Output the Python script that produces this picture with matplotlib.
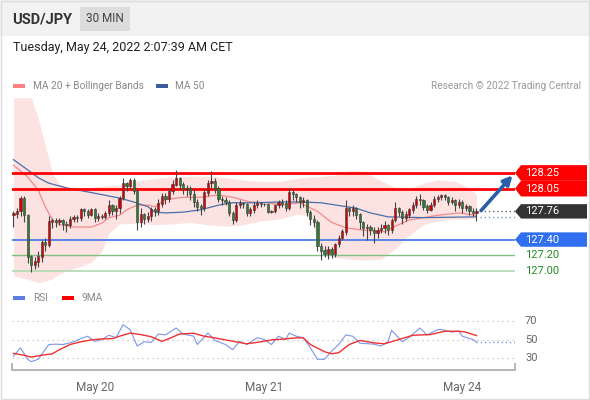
import numpy as np
import matplotlib
matplotlib.use('Agg')
import matplotlib.pyplot as plt
from matplotlib.patches import Rectangle, Polygon
from matplotlib.transforms import blended_transform_factory

plt.rcParams['font.family'] = ['Roboto', 'DejaVu Sans']

# candles (30 min), open of each candle = previous close
first_open = 127.72
closes = [127.73, 127.76, 127.93, 127.71, 127.18, 127.08, 127.12, 127.18, 127.36, 127.33,
          127.63, 127.65, 127.62, 127.64, 127.60, 127.58, 127.66, 127.68, 127.67, 127.78,
          127.76, 127.72, 127.78, 127.68, 127.70, 127.69, 127.74, 127.84, 127.76, 127.80,
          127.93, 128.12, 128.08, 128.16, 128.02, 127.63, 127.72, 127.66, 127.70, 127.78,
          127.76, 127.86, 127.95, 127.92, 128.02, 128.10, 128.18, 128.10, 128.04, 128.06,
          127.98, 127.88, 127.82, 127.80, 128.00, 128.12, 128.15, 128.05, 127.92, 127.90,
          127.88, 127.74, 127.65, 127.84, 127.86, 127.85, 127.74, 127.78, 127.84, 127.86,
          127.85, 127.85, 127.75, 127.76, 127.84, 127.88, 127.86, 127.80, 128.00, 127.98,
          127.94, 127.88, 127.90, 127.75, 127.66, 127.62, 127.32, 127.26, 127.22, 127.28,
          127.22, 127.34, 127.42, 127.50, 127.80, 127.76, 127.80, 127.72, 127.62, 127.55,
          127.56, 127.52, 127.48, 127.52, 127.55, 127.58, 127.52, 127.65, 127.80, 127.75,
          127.67, 127.72, 127.78, 127.84, 127.92, 127.90, 127.82, 127.78, 127.84, 127.92,
          127.94, 127.96, 127.94, 127.88, 127.90, 127.84, 127.88, 127.80, 127.82, 127.76,
          127.74, 127.76]
highs = [127.76, 127.80, 127.96, 127.96, 127.73, 127.20, 127.18, 127.25, 127.40, 127.42,
         127.70, 127.68, 127.67, 127.68, 127.66, 127.64, 127.70, 127.72, 127.72, 127.80,
         127.80, 127.79, 127.80, 127.80, 127.74, 127.73, 127.77, 127.90, 127.86, 127.84,
         127.95, 128.18, 128.14, 128.19, 128.18, 128.04, 127.80, 127.74, 127.75, 127.82,
         127.82, 127.92, 128.00, 128.00, 128.06, 128.16, 128.29, 128.20, 128.14, 128.10,
         128.08, 128.06, 127.92, 127.86, 128.05, 128.16, 128.28, 128.18, 128.08, 127.96,
         127.94, 127.90, 127.76, 127.88, 127.90, 127.88, 127.87, 127.82, 127.88, 127.90,
         127.88, 127.87, 127.87, 127.78, 127.86, 127.90, 127.92, 127.90, 128.06, 128.04,
         128.00, 127.96, 127.94, 127.92, 127.78, 127.72, 127.65, 127.36, 127.32, 127.32,
         127.30, 127.36, 127.46, 127.54, 127.90, 127.82, 127.84, 127.82, 127.74, 127.64,
         127.60, 127.58, 127.56, 127.56, 127.60, 127.64, 127.60, 127.68, 127.88, 127.82,
         127.78, 127.76, 127.80, 127.88, 127.96, 127.98, 127.92, 127.86, 127.88, 127.96,
         127.97, 127.98, 127.98, 127.96, 127.94, 127.92, 127.92, 127.90, 127.86, 127.84,
         127.80, 127.80]
lows = [127.56, 127.68, 127.70, 127.62, 127.10, 126.99, 127.02, 127.05, 127.12, 127.26,
        127.30, 127.55, 127.56, 127.58, 127.52, 127.50, 127.55, 127.62, 127.63, 127.64,
        127.70, 127.68, 127.70, 127.62, 127.64, 127.66, 127.66, 127.70, 127.72, 127.66,
        127.74, 127.90, 128.02, 128.05, 127.98, 127.52, 127.56, 127.60, 127.62, 127.64,
        127.70, 127.72, 127.82, 127.85, 127.88, 127.98, 128.08, 128.04, 127.98, 127.96,
        127.90, 127.82, 127.76, 127.72, 127.76, 127.96, 128.06, 128.00, 127.88, 127.84,
        127.84, 127.70, 127.60, 127.62, 127.80, 127.80, 127.70, 127.70, 127.74, 127.80,
        127.82, 127.83, 127.74, 127.74, 127.74, 127.80, 127.82, 127.76, 127.78, 127.90,
        127.88, 127.80, 127.82, 127.70, 127.58, 127.56, 127.25, 127.14, 127.18, 127.15,
        127.16, 127.18, 127.30, 127.40, 127.46, 127.70, 127.70, 127.66, 127.54, 127.45,
        127.40, 127.46, 127.36, 127.42, 127.48, 127.48, 127.46, 127.48, 127.62, 127.70,
        127.60, 127.64, 127.68, 127.74, 127.80, 127.84, 127.78, 127.74, 127.76, 127.82,
        127.88, 127.90, 127.90, 127.84, 127.86, 127.76, 127.80, 127.74, 127.76, 127.72,
        127.70, 127.64]

# MA 20 + Bollinger bands, MA 50
band_idx = [0, 5, 7, 9, 11, 13, 15, 19, 22, 25, 27, 30, 35, 40, 45, 50, 55, 60, 65, 70,
            75, 80, 84, 86, 88, 91, 95, 98, 101, 104, 108, 111, 116, 120, 125, 129, 131]
band_upper = [129.21, 129.21, 128.95, 128.60, 128.25, 128.11, 128.07, 128.06, 128.07, 128.08,
              128.09, 128.10, 128.15, 128.18, 128.20, 128.21, 128.21, 128.19, 128.16, 128.14,
              128.14, 128.18, 128.20, 128.20, 128.21, 128.22, 128.28, 128.27, 128.22, 128.15,
              128.06, 128.03, 128.12, 128.16, 128.14, 128.06, 127.97]
band_lower = [126.94, 126.88, 126.85, 126.87, 126.90, 126.96, 127.00, 127.06, 127.11, 127.25,
              127.48, 127.60, 127.61, 127.59, 127.60, 127.62, 127.59, 127.57, 127.59, 127.64,
              127.66, 127.72, 127.71, 127.40, 127.24, 127.17, 127.15, 127.14, 127.14, 127.15,
              127.28, 127.42, 127.59, 127.64, 127.66, 127.66, 127.68]
ma20_idx = [0, 4, 7, 9, 11, 13, 17, 22, 25, 27, 30, 32, 35, 38, 40, 43, 48, 53, 58, 62,
            67, 72, 76, 81, 86, 90, 94, 99, 105, 107, 112, 120, 126, 131]
ma20 = [128.35, 128.20, 128.03, 127.82, 127.65, 127.59, 127.56, 127.56, 127.61, 127.68,
        127.71, 127.78, 127.84, 127.84, 127.82, 127.91, 127.94, 127.94, 127.97, 127.94,
        127.88, 127.87, 127.84, 127.87, 127.76, 127.62, 127.55, 127.52, 127.50, 127.55,
        127.65, 127.71, 127.74, 127.71]
ma50_idx = [0, 4, 7, 10, 15, 22, 30, 34, 38, 40, 43, 48, 53, 58, 62, 69, 75, 81, 87, 97,
            101, 106, 116, 131]
ma50 = [128.42, 128.29, 128.19, 128.12, 128.06, 128.00, 127.93, 127.88, 127.82, 127.75,
        127.74, 127.75, 127.78, 127.84, 127.87, 127.87, 127.88, 127.88, 127.87, 127.80,
        127.74, 127.69, 127.68, 127.69]

# key levels
resist = [128.25, 128.05]
support = [127.40, 127.20, 127.00]
last_price = 127.76
target = 128.22

# RSI and its 9 period average
rsi_idx = [0, 2, 4, 5, 7, 8, 10, 12, 14, 17, 19, 21, 23, 25, 27, 29, 31, 33, 35, 37,
           39, 41, 43, 46, 48, 51, 52, 55, 57, 60, 62, 64, 66, 69, 71, 73, 75, 77, 78, 80,
           82, 84, 86, 88, 90, 92, 94, 96, 98, 102, 104, 106, 107, 110, 112, 115, 117, 120, 121, 124,
           126, 127, 130, 131]
rsi = [32, 41, 28.6, 26, 28.6, 34, 44.6, 45, 44.6, 47.5, 51, 53.6, 48, 50, 54.6, 52, 66, 60.7, 43, 47.5,
       47, 56, 55, 62.5, 56, 53.6, 44.6, 57, 49, 44.6, 39, 48, 44.6, 52, 50, 44.6, 53.6, 50, 57, 53.6,
       52, 41, 28.6, 28.6, 37.5, 44.6, 55, 53.6, 46, 45, 43, 48, 60, 47.5, 52.5, 62.5, 55, 60.7, 61, 58,
       59, 53.6, 50, 47.5]
ma9_idx = [0, 3, 5, 8, 11, 13, 16, 19, 22, 25, 28, 30, 33, 36, 39, 42, 44, 47, 51, 54,
           57, 60, 63, 66, 70, 73, 76, 80, 82, 84, 88, 90, 92, 95, 98, 102, 105, 109, 113, 118,
           122, 126, 128, 131]
ma9 = [35, 33, 31, 33, 34.6, 39, 44.6, 47.5, 49.6, 50.7, 51, 53.6, 57, 55.4, 53, 48, 51, 56, 56.8, 53.6,
       51.8, 49.6, 47.5, 45.4, 47.5, 49.6, 50.4, 51.8, 51.8, 44.6, 36.8, 34.6, 35.7, 44.6, 49, 46.4, 45.4, 50, 54.6, 55.4,
       59, 59, 58, 54.3]

date_pos = [23, 71, 127]
date_labels = ['May 20', 'May 21', 'May 24']

W, H = 590, 400
fig = plt.figure(figsize=(W / 100, H / 100), dpi=100)


def fx(px):
    return px / W


def fy(py):
    return 1 - py / H


# header
fig.patches.append(Rectangle((0, fy(36)), 1, 36 / H, transform=fig.transFigure,
                             facecolor='#f2f2f2', edgecolor='none', zorder=0))
fig.patches.append(Rectangle((fx(80), fy(31)), fx(50), 24 / H, transform=fig.transFigure,
                             facecolor='#dcdcdc', edgecolor='none', zorder=1))
fig.patches.append(Rectangle((0.001, 0.002), 0.997, 0.996, transform=fig.transFigure,
                             facecolor='none', edgecolor='#dddddd', lw=1, zorder=5))
fig.text(fx(12), fy(19), 'USD/JPY', fontsize=10.5, fontweight='bold', color='#333333', va='center')
fig.text(fx(105), fy(19), '30 MIN', fontsize=8.5, color='#444444', va='center', ha='center')
fig.text(fx(13), fy(48), 'Tuesday, May 24, 2022 2:07:39 AM CET', fontsize=9, color='#222222', va='center')

# legend row
fig.patches.append(Rectangle((fx(13), fy(88)), fx(12), 4 / H, transform=fig.transFigure,
                             facecolor='#ff8080', edgecolor='none'))
fig.text(fx(33), fy(86), 'MA 20 + Bollinger Bands', fontsize=7.3, color='#888888', va='center')
fig.patches.append(Rectangle((fx(156), fy(88)), fx(12), 4 / H, transform=fig.transFigure,
                             facecolor='#3a5e9c', edgecolor='none'))
fig.text(fx(175), fy(86), 'MA 50', fontsize=7.3, color='#888888', va='center')
fig.text(fx(581), fy(86), 'Research \u00a9 2022 Trading Central', fontsize=7.3, color='#999999',
         va='center', ha='right')

# price panel
ax = fig.add_axes([fx(12), fy(285), fx(503), (285 - 97) / H])
ax.set_xlim(-0.42, 141.9)
ax.set_ylim(126.82, 129.22)
ax.axis('off')

ax.fill_between(band_idx, band_lower, band_upper, color='#fde2e2', lw=0, zorder=1)
ax.plot(ma20_idx, ma20, color='#f48a8a', lw=0.9, zorder=2)
ax.plot(ma50_idx, ma50, color='#4a6fa8', lw=0.9, zorder=2)

for p in resist:
    ax.axhline(p, color='#ff0000', lw=2, zorder=3)
ax.axhline(support[0], color='#3b73e8', lw=1.2, zorder=3)
ax.axhline(support[1], color='#7fbf7f', lw=1.0, zorder=3)
ax.axhline(support[2], color='#b8dcb8', lw=1.3, zorder=3)

opens = [first_open] + closes[:-1]
x = np.arange(len(closes))
o = np.array(opens)
c = np.array(closes)
up = c >= o
ax.vlines(x, lows, highs, color='#444444', lw=0.8, zorder=4)
ax.bar(x[up], (c - o)[up] + 0.004, bottom=o[up], width=0.62, color='#d50000',
       edgecolor='#3a3a3a', lw=0.4, zorder=5)
ax.bar(x[~up], (o - c)[~up] + 0.004, bottom=c[~up], width=0.62, color='#2e7d32',
       edgecolor='#3a3a3a', lw=0.4, zorder=5)

n = len(closes)
ax.plot([n, 141.9], [last_price, last_price], color='#666666', lw=1, ls=(0, (1, 2)), zorder=3)
ax.plot([n, 141.9], [ma50[-1], ma50[-1]], color='#7f9ccc', lw=1, ls=(0, (1, 2)), zorder=3)

ax.annotate('', xy=(141.2, target), xytext=(n + 0.3, last_price + 0.01),
            arrowprops=dict(arrowstyle='-|>', color='#2b5ea8', lw=2.6, mutation_scale=13,
                            shrinkA=0, shrinkB=0), zorder=6)

# right side labels
tr = blended_transform_factory(ax.transAxes, ax.transData)
px_ax = 1 / 503


def tag(price, color, half=0.092):
    x0 = 1 + 0 * px_ax
    x1 = 1 + 6 * px_ax
    x2 = 1 + 72 * px_ax
    poly = Polygon([(x0, price), (x1, price + half), (x2, price + half),
                    (x2, price - half), (x1, price - half)], closed=True,
                   transform=tr, facecolor=color, edgecolor='none', clip_on=False, zorder=6)
    ax.add_patch(poly)
    ax.text(1 + 10 * px_ax, price, f'{price:.2f}', transform=tr, color='white',
            fontsize=8, va='center', ha='left', clip_on=False, zorder=7)


tag(resist[0], '#ff0000', 0.1)
tag(resist[1], '#ff0000', 0.1)
tag(last_price, '#333333')
tag(support[0], '#2f6ff0')
for p in support[1:]:
    ax.text(1 + 10 * px_ax, p, f'{p:.2f}', transform=tr, color='#228b22',
            fontsize=8, va='center', ha='left', clip_on=False)

# RSI legend
fig.patches.append(Rectangle((fx(13), fy(300)), fx(12), 4 / H, transform=fig.transFigure,
                             facecolor='#5b7fe0', edgecolor='none'))
fig.text(fx(33), fy(298), 'RSI', fontsize=7.3, color='#888888', va='center')
fig.patches.append(Rectangle((fx(62), fy(300)), fx(12), 4 / H, transform=fig.transFigure,
                             facecolor='#ff0000', edgecolor='none'))
fig.text(fx(82), fy(298), '9MA', fontsize=7.3, color='#888888', va='center')

# RSI panel
ax2 = fig.add_axes([fx(12), fy(370), fx(503), (370 - 310) / H])
ax2.set_xlim(-0.42, 141.9)
ax2.set_ylim(17, 82)
for s in ['top', 'left', 'right']:
    ax2.spines[s].set_visible(False)
ax2.spines['bottom'].set_color('#aaaaaa')
ax2.spines['bottom'].set_linewidth(1.2)
ax2.set_yticks([])
for lvl in [70, 50, 30]:
    ax2.axhline(lvl, color='#c0c0c0', lw=0.9, ls=(0, (1, 3)), zorder=1)
    ax2.text(1 + 10 * px_ax, lvl, str(lvl), transform=blended_transform_factory(ax2.transAxes, ax2.transData),
             fontsize=8, color='#666666', va='center', ha='left')
ax2.plot(rsi_idx, rsi, color='#7b96e8', lw=0.8, zorder=3)
ax2.plot(ma9_idx, ma9, color='#f03030', lw=1.0, zorder=4)
ax2.plot([rsi_idx[-1], 141.9], [rsi[-1], rsi[-1]], color='#7b96e8', lw=1, ls=(0, (1, 2)), zorder=3)

ax2.set_xticks(date_pos)
ax2.set_xticklabels(date_labels)
ax2.tick_params(axis='x', which='major', length=0, pad=8, labelsize=8.5, labelcolor='#666666')
ax2.set_xticks([-0.42, 141.9], minor=True)
ax2.tick_params(axis='x', which='minor', length=5, direction='in', color='#aaaaaa', width=1.2)

fig.savefig('out.png', dpi=100)
